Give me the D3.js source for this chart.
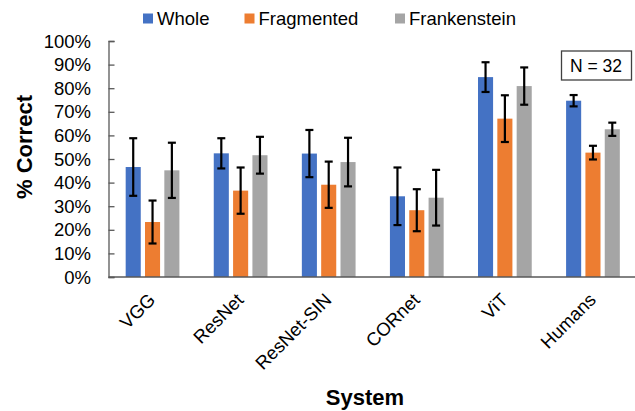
<!DOCTYPE html>
<html>
<head>
<meta charset="utf-8">
<script src="https://cdn.jsdelivr.net/npm/d3@7"></script>
<style>
    body { margin: 0; background: #fff; }
    text { font-family: "Liberation Sans", Arial, sans-serif; fill: #000; }
</style>
</head>
<body>
<script>
(function(){
    "use strict";

    const systems = ["VGG", "ResNet", "ResNet-SIN", "CORnet", "ViT", "Humans"];
    const seriesNames = ["Whole", "Fragmented", "Frankenstein"];
    const whole = [46.6, 52.4, 52.3, 34.2, 84.7, 74.7];
    const wholeErr = [12.2, 6.4, 10.0, 12.2, 6.3, 2.4];
    const fragmented = [23.3, 36.6, 39.1, 28.3, 67.1, 52.7];
    const fragmentedErr = [9.1, 9.8, 9.8, 8.9, 9.9, 2.9];
    const frankenstein = [45.2, 51.6, 48.7, 33.6, 80.9, 62.6];
    const frankensteinErr = [11.7, 7.8, 10.3, 11.8, 7.9, 2.8];
    const yTicks = [0, 10, 20, 30, 40, 50, 60, 70, 80, 90, 100];

    const colors = {
        "Whole": "#4472C4",
        "Fragmented": "#ED7D31",
        "Frankenstein": "#A5A5A5"
    };

    const width = 635, height = 411;
    const margin = {top: 41, right: -2, bottom: 134, left: 108.5};

    const svg = d3.select("body").append("svg")
        .attr("width", width)
        .attr("height", height);

    let rows = systems.map((s, i) => ({
        system: s,
        values: [
            {key: "Whole", value: whole[i], err: wholeErr[i]},
            {key: "Fragmented", value: fragmented[i], err: fragmentedErr[i]},
            {key: "Frankenstein", value: frankenstein[i], err: frankensteinErr[i]}
        ]
    }));

    let x0 = d3.scaleBand()
        .domain(systems)
        .range([margin.left, width - margin.right])
        .paddingInner(0)
        .paddingOuter(0);

    let x1 = d3.scaleBand()
        .domain(seriesNames)
        .range([x0.bandwidth() * 0.195, x0.bandwidth() * 0.805])
        .paddingInner(0.22);

    let y = d3.scaleLinear()
        .domain([0, 100])
        .range([height - margin.bottom, margin.top]);

    // y axis
    let yAxis = d3.axisRight(y)
        .tickValues(yTicks)
        .tickSize(6)
        .tickFormat("");
    let yg = svg.append("g")
        .attr("transform", "translate(" + margin.left + ",0)")
        .call(yAxis);
    yg.select(".domain").attr("stroke", "#595959").attr("stroke-width", 1.3);
    yg.selectAll(".tick line").attr("stroke", "#595959").attr("stroke-width", 1.3);

    svg.append("g").selectAll("text")
        .data(yTicks)
        .enter()
        .append("text")
            .attr("x", 91)
            .attr("y", d => y(d))
            .attr("dy", "0.36em")
            .attr("text-anchor", "end")
            .style("font-size", "18.5px")
            .text(d => d + "%");

    // bars
    let groups = svg.append("g").selectAll("g")
        .data(rows)
        .enter()
        .append("g")
            .attr("transform", d => "translate(" + x0(d.system) + ",0)");

    groups.selectAll("rect")
        .data(d => d.values)
        .enter()
        .append("rect")
            .attr("x", d => x1(d.key))
            .attr("y", d => y(d.value))
            .attr("width", x1.bandwidth())
            .attr("height", d => y(0) - y(d.value))
            .attr("fill", d => colors[d.key]);

    // error bars
    let eb = groups.selectAll(".err")
        .data(d => d.values)
        .enter()
        .append("g")
            .attr("class", "err")
            .attr("stroke", "#000")
            .attr("stroke-width", 2.2);
    eb.append("line")
        .attr("x1", d => x1(d.key) + x1.bandwidth() / 2)
        .attr("x2", d => x1(d.key) + x1.bandwidth() / 2)
        .attr("y1", d => y(d.value + d.err))
        .attr("y2", d => y(d.value - d.err));
    eb.append("line")
        .attr("x1", d => x1(d.key) + x1.bandwidth() / 2 - 4)
        .attr("x2", d => x1(d.key) + x1.bandwidth() / 2 + 4)
        .attr("y1", d => y(d.value + d.err))
        .attr("y2", d => y(d.value + d.err));
    eb.append("line")
        .attr("x1", d => x1(d.key) + x1.bandwidth() / 2 - 4)
        .attr("x2", d => x1(d.key) + x1.bandwidth() / 2 + 4)
        .attr("y1", d => y(d.value - d.err))
        .attr("y2", d => y(d.value - d.err));

    // x axis
    svg.append("line")
        .attr("x1", margin.left)
        .attr("x2", width)
        .attr("y1", y(0))
        .attr("y2", y(0))
        .attr("stroke", "#595959")
        .attr("stroke-width", 1.3);

    svg.append("g").selectAll("text")
        .data(systems)
        .enter()
        .append("text")
            .attr("transform", d => "translate(" + (x0(d) + x0.bandwidth() / 2 + 4) + ",301) rotate(-45)")
            .attr("text-anchor", "end")
            .style("font-size", "18.5px")
            .text(d => d);

    // axis titles
    svg.append("text")
        .attr("x", 365)
        .attr("y", 405)
        .attr("text-anchor", "middle")
        .style("font-size", "22px")
        .style("font-weight", "bold")
        .text("System");

    svg.append("text")
        .attr("transform", "translate(32,147) rotate(-90)")
        .attr("text-anchor", "middle")
        .style("font-size", "22px")
        .style("font-weight", "bold")
        .text("% Correct");

    // legend
    let legendX = [143, 244.5, 395];
    let legend = svg.append("g").selectAll("g")
        .data(seriesNames)
        .enter()
        .append("g")
            .attr("transform", (d, i) => "translate(" + legendX[i] + ",0)");
    legend.append("rect")
        .attr("x", 0)
        .attr("y", 13.5)
        .attr("width", 10)
        .attr("height", 10)
        .attr("fill", d => colors[d]);
    legend.append("text")
        .attr("x", 14)
        .attr("y", 25)
        .style("font-size", "18.5px")
        .text(d => d);

    // N box
    svg.append("rect")
        .attr("x", 561.5)
        .attr("y", 51)
        .attr("width", 70)
        .attr("height", 29)
        .attr("fill", "#fff")
        .attr("stroke", "#404040")
        .attr("stroke-width", 1.3);
    svg.append("text")
        .attr("x", 596)
        .attr("y", 72)
        .attr("text-anchor", "middle")
        .style("font-size", "17.5px")
        .text("N = 32");
})()
</script>
</body>
</html>
